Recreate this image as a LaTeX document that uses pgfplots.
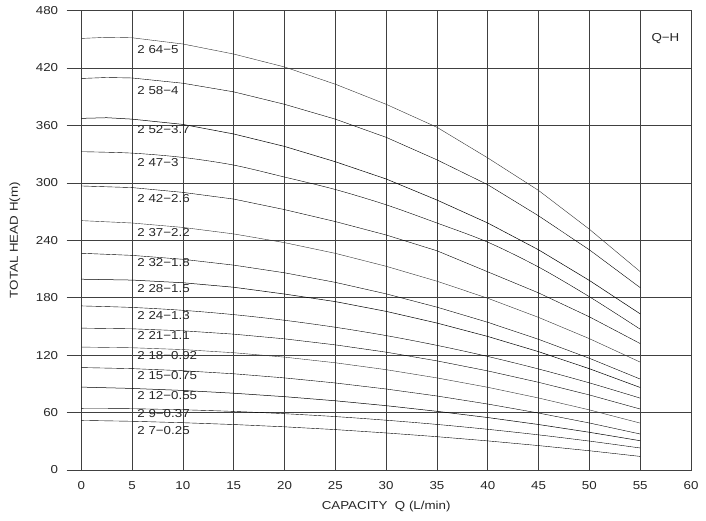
\documentclass[border=0pt]{standalone}
\usepackage{fontspec}
\setmainfont{Liberation Sans}[FakeStretch=1.16]
\usepackage{pgfplots}
\usepackage{pgfplotstable}
\pgfplotsset{compat=1.18}

% Q-H curves (Q in L/min, H in m)
\pgfplotstableread{
Q   c4    c5    c6    c7    c8    c9    c10   c11   c12   c13  c14  c15
0   332.5 296.7 260.5 226.4 199.3 171.4 148.2 128.4 107.0 86.6 64.3 51.8
5   331.0 295.0 258.0 224.2 198.4 169.8 147.5 127.7 105.9 85.2 64.0 50.9
10  326.5 290.0 253.4 220.1 195.6 166.8 145.4 125.8 103.7 83.1 62.9 49.4
15  318.5 283.0 246.6 214.0 190.9 162.3 141.9 122.5 100.5 80.2 61.2 47.5
20  306.0 272.0 237.5 206.0 183.8 156.4 137.0 117.9 96.2  76.6 58.8 45.1
25  293.0 259.5 226.3 196.0 175.9 149.1 130.7 112.0 90.9  72.3 55.8 42.2
30  277.0 245.5 212.8 184.0 165.7 140.4 123.1 104.8 84.6  67.2 52.0 38.7
35  258.0 229.0 197.2 170.1 153.5 130.2 114.0 96.2  77.3  61.3 47.6 34.8
40  238.0 207.0 179.4 154.3 139.5 118.6 103.5 86.4  68.9  54.8 42.5 30.4
45  212.0 185.0 159.4 136.5 123.6 105.5 91.6  75.2  59.5  47.5 36.7 25.5
50  181.0 160.0 137.2 116.7 105.8 91.0  78.4  62.8  49.1  39.4 30.2 20.1
55  147.1 132.1 112.7 95.0  86.2  75.1  63.7  49.0  37.6  30.6 23.0 14.2
}\curves

\begin{document}
\fontsize{11.5}{13}\selectfont
\begin{tikzpicture}
\begin{axis}[
    scale only axis, width=609.7pt, height=459.5pt,
    xmin=0, xmax=60, ymin=0, ymax=480,
    xtick={0,5,...,60}, ytick={0,60,...,480},
    grid=major, grid style={black!75, line width=0.6pt},
    axis line style={black!75, line width=0.6pt},
    tick pos=left, tick align=outside, major tick length=14.6pt,
    xtick style={draw=none},
    ytick style={black!75, line width=0.6pt},
    /pgf/number format/assume math mode=true,
    tick label style={font=\fontsize{11.5}{13}\selectfont, text=black!85},
    xticklabel style={yshift=7pt},
    yticklabel style={xshift=-4.5pt},
    label style={font=\fontsize{11.5}{13}\selectfont, text=black!85},
    xlabel={CAPACITY\ \ Q (L/min)},
    ylabel={TOTAL HEAD H(m)},
    xlabel style={at={(axis description cs:0.5,-0.0805)}, anchor=center},
    ylabel style={at={(axis description cs:-0.1087,0.5)}, anchor=center},
    cycle list={{black!80, solid, line width=0.5pt, smooth, mark=none}},
    clip=false,
]
\addplot coordinates {(0,450.8)(2.5,452)(5,451.5)(10,445)(15,434.5)(20,421)(25,403)(30,382)(35,358)(40,326)(45,292)(50,251.5)(55,207.2)};
\addplot coordinates {(0,409)(2.5,410)(5,409.5)(10,404)(15,395)(20,382)(25,366.5)(30,347.5)(35,324)(40,298)(45,265.5)(50,230)(55,190.5)};
\addplot coordinates {(0,367.3)(2.5,368)(5,366.5)(10,361)(15,351)(20,338)(25,322)(30,304)(35,282)(40,258)(45,230)(50,198)(55,163.1)};
\addplot table[x=Q, y=c4] {\curves};
\addplot table[x=Q, y=c5] {\curves};
\addplot table[x=Q, y=c6] {\curves};
\addplot table[x=Q, y=c7] {\curves};
\addplot table[x=Q, y=c8] {\curves};
\addplot table[x=Q, y=c9] {\curves};
\addplot table[x=Q, y=c10] {\curves};
\addplot table[x=Q, y=c11] {\curves};
\addplot table[x=Q, y=c12] {\curves};
\addplot table[x=Q, y=c13] {\curves};
\addplot table[x=Q, y=c14] {\curves};
\addplot table[x=Q, y=c15] {\curves};

\begin{scope}[every node/.style={anchor=west, inner sep=0pt, text=black!85}]
\node at (axis cs:5.5,439.2) {2 64−5};
\node at (axis cs:5.5,396.3) {2 58−4};
\node at (axis cs:5.5,355.3) {2 52−3.7};
\node at (axis cs:5.5,321.0) {2 47−3};
\node at (axis cs:5.5,283.5) {2 42−2.6};
\node at (axis cs:5.5,247.8) {2 37−2.2};
\node at (axis cs:5.5,216.8) {2 32−1.8};
\node at (axis cs:5.5,189.1) {2 28−1.5};
\node at (axis cs:5.5,161.4) {2 24−1.3};
\node at (axis cs:5.5,141.0) {2 21−1.1};
\node at (axis cs:5.5,120.0) {2 18−0.92};
\node at (axis cs:5.5,98.4) {2 15−0.75};
\node at (axis cs:5.5,78.2) {2 12−0.55};
\node at (axis cs:5.5,59.2) {2 9−0.37};
\node at (axis cs:5.5,41.0) {2 7−0.25};
\node at (axis cs:56.1,450.4) {Q−H};
\end{scope}
% page frame: 81.3pt left of, 51pt below the axis box
\path (rel axis cs:0,0) ++(-81.3pt,-51pt) rectangle ++(706pt,521pt);
\end{axis}
\end{tikzpicture}
\end{document}
